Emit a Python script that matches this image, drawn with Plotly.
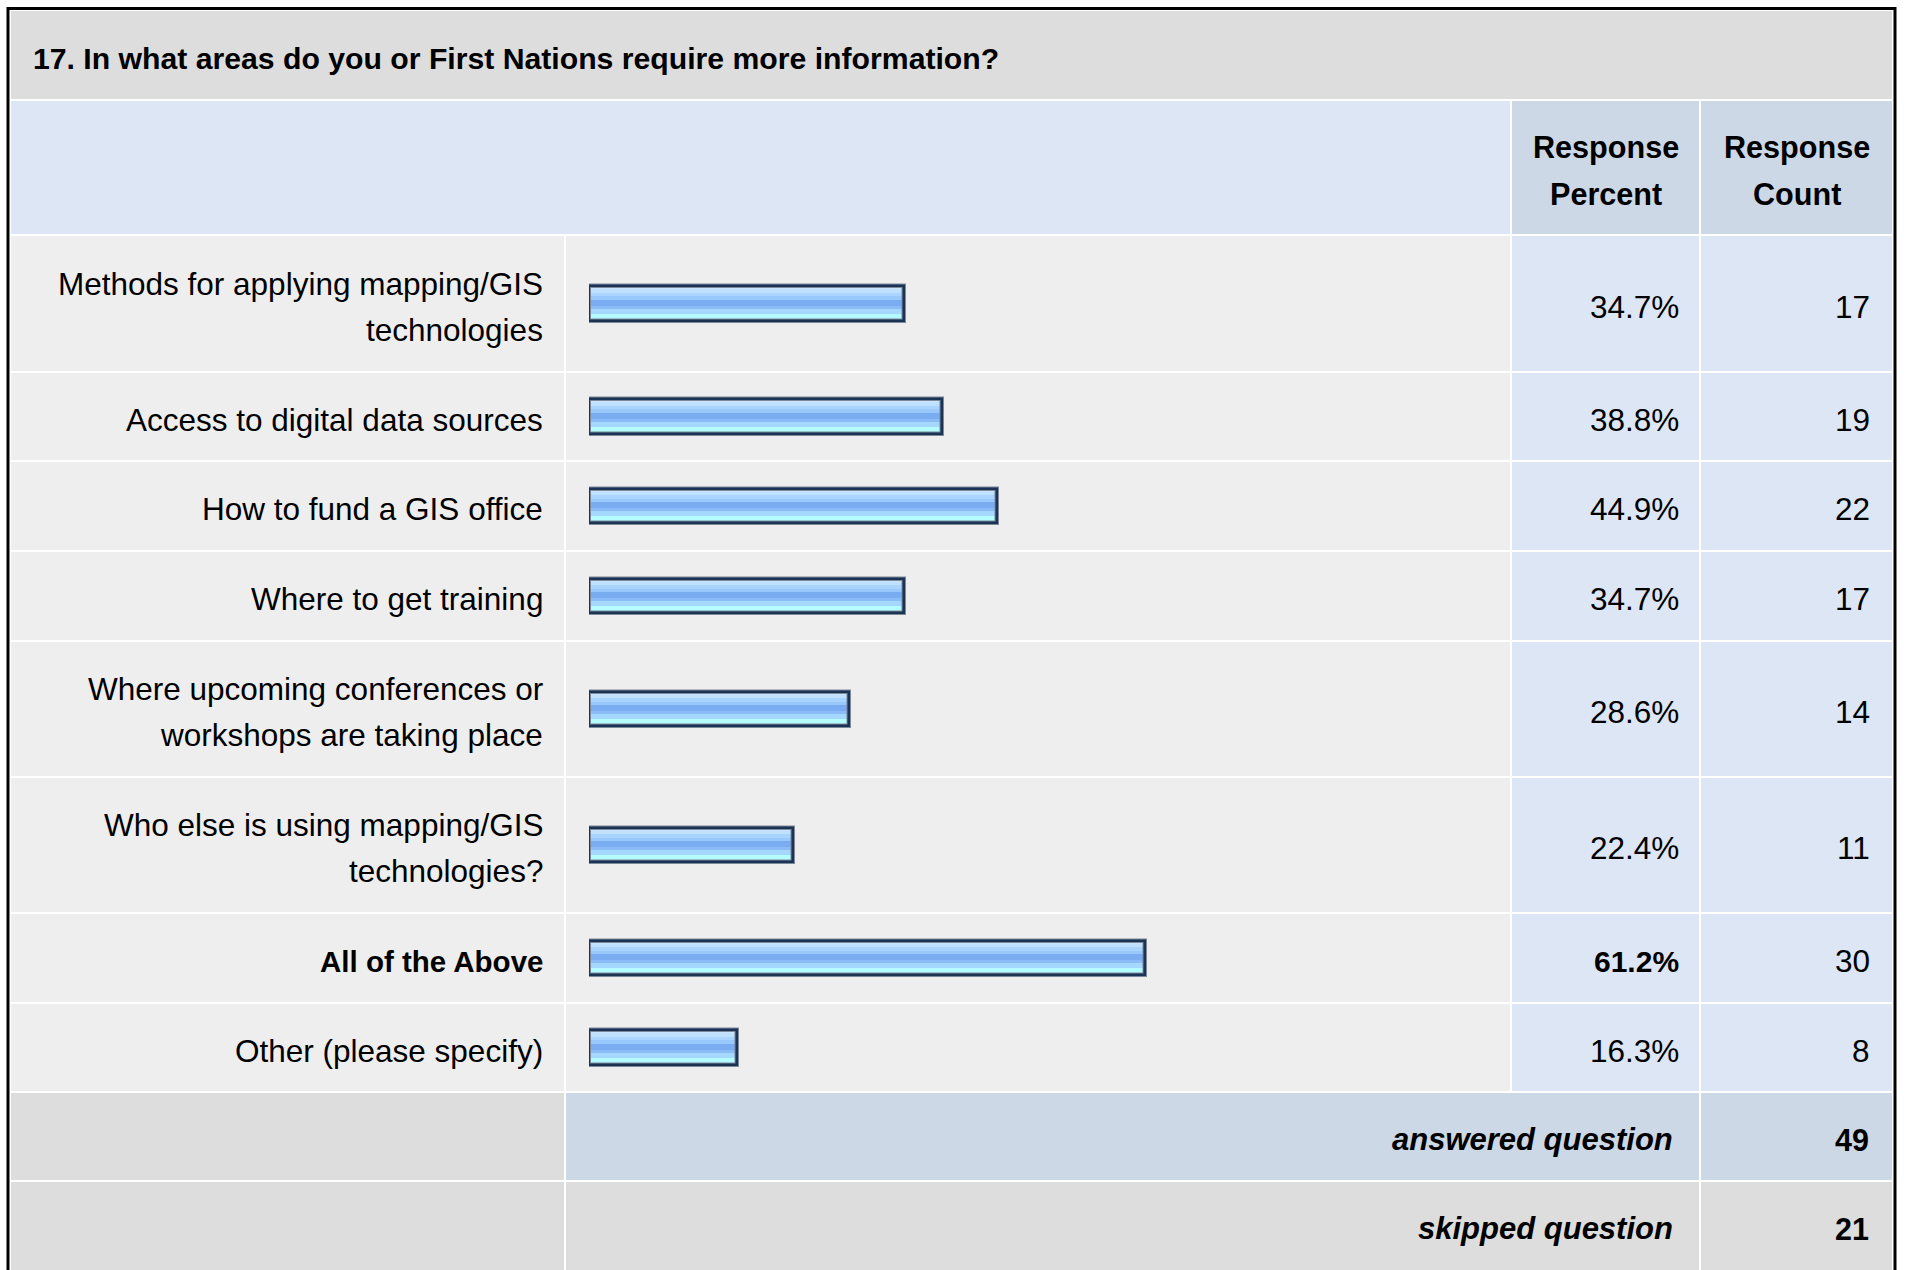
import plotly.graph_objects as go

# ---- survey data ----
question = "17. In what areas do you or First Nations require more information?"
categories = [
    "Methods for applying mapping/GIS\ntechnologies",
    "Access to digital data sources",
    "How to fund a GIS office",
    "Where to get training",
    "Where upcoming conferences or\nworkshops are taking place",
    "Who else is using mapping/GIS\ntechnologies?",
    "All of the Above",
    "Other (please specify)",
]
response_percent = [34.7, 38.8, 44.9, 34.7, 28.6, 22.4, 61.2, 16.3]
response_count = [17, 19, 22, 17, 14, 11, 30, 8]
answered_question = 49
skipped_question = 21
column_headers = ["Response\nPercent", "Response\nCount"]

# ---- layout constants (pixels) ----
W, H = 1907, 1270
FONT = "Liberation Sans, Arial, Helvetica, sans-serif"
COL_X = [10, 565, 1511, 1700, 1893]          # cell column edges
ROW_Y = [10, 100, 235, 372, 461, 551, 641, 777, 913, 1003, 1092, 1181, 1275]
BAR_ZERO, BAR_FULL = 589, 1497.5              # pixel positions of 0% and 100%
LINE_GAP = 46                                 # line spacing for wrapped text

C_TITLE = "#dddddd"
C_HEAD = "#dce6f4"
C_HEAD_DARK = "#ccd8e6"
C_ROW = "#eeeeee"
C_FOOT = "#dddddd"

shapes = []


def cell(x0, x1, y0, y1, color):
    shapes.append(dict(type="rect", xref="x", yref="y", x0=x0 + 1, x1=x1 - 1,
                       y0=y0 + 1, y1=y1 - 1, fillcolor=color,
                       line=dict(width=0), layer="below"))


annotations = []


def text(x, y, s, anchor="right", size=31.5, weight="normal", style="normal"):
    lines = s.split("\n")
    n = len(lines)
    for i, ln in enumerate(lines):
        yy = y + (i - (n - 1) / 2) * LINE_GAP
        annotations.append(dict(
            x=x, y=yy, xref="x", yref="y", text=ln, showarrow=False,
            xanchor=anchor, yanchor="middle",
            font=dict(family=FONT, size=size, color="#000000",
                      weight=weight, style=style)))


# title row
cell(COL_X[0], COL_X[4], ROW_Y[0], ROW_Y[1], C_TITLE)
text(31, (ROW_Y[0] + ROW_Y[1]) / 2 + 3, question, anchor="left", size=30.2, weight="bold")

# header row
cell(COL_X[0], COL_X[2], ROW_Y[1], ROW_Y[2], C_HEAD)
cell(COL_X[2], COL_X[3], ROW_Y[1], ROW_Y[2], C_HEAD_DARK)
cell(COL_X[3], COL_X[4], ROW_Y[1], ROW_Y[2], C_HEAD_DARK)
hy = (ROW_Y[1] + ROW_Y[2]) / 2 + 3
text((COL_X[2] + COL_X[3]) / 2, hy, column_headers[0], anchor="center", size=30.6, weight="bold")
text((COL_X[3] + COL_X[4]) / 2, hy, column_headers[1], anchor="center", size=30.6, weight="bold")

# answer rows
top_pct = max(response_percent)
row_centers = []
for i, (lab, pct, cnt) in enumerate(zip(categories, response_percent, response_count)):
    y0, y1 = ROW_Y[2 + i], ROW_Y[3 + i]
    yc = (y0 + y1) / 2
    row_centers.append(yc)
    cell(COL_X[0], COL_X[1], y0, y1, C_ROW)
    cell(COL_X[1], COL_X[2], y0, y1, C_ROW)
    cell(COL_X[2], COL_X[3], y0, y1, C_HEAD)
    cell(COL_X[3], COL_X[4], y0, y1, C_HEAD)
    bold = pct == top_pct
    w = "bold" if bold else "normal"
    text(COL_X[1] - 20, yc + 3, lab, weight=w, size=29.5 if bold else 31.5)
    text(COL_X[3] - 19, yc + 3, f"{pct:.1f}%", weight=w, size=30 if bold else 31.5)
    text(COL_X[4] - 21, yc + 3, str(cnt))

# summary rows
ya0, ya1, ys1 = ROW_Y[10], ROW_Y[11], ROW_Y[12]
cell(COL_X[0], COL_X[1], ya0, ya1, C_FOOT)
cell(COL_X[1], COL_X[3], ya0, ya1, C_HEAD_DARK)
cell(COL_X[3], COL_X[4], ya0, ya1, C_HEAD_DARK)
cell(COL_X[0], COL_X[1], ya1, ys1, C_FOOT)
cell(COL_X[1], COL_X[3], ya1, ys1, C_FOOT)
cell(COL_X[3], COL_X[4], ya1, ys1, C_FOOT)
text(COL_X[3] - 25, (ya0 + ya1) / 2 + 3, "answered question", size=31, weight="bold", style="italic")
text(COL_X[4] - 22, (ya0 + ya1) / 2 + 3, str(answered_question), size=30.5, weight="bold")
text(COL_X[3] - 25, (ya1 + 1270) / 2 + 3, "skipped question", size=31, weight="bold", style="italic")
text(COL_X[4] - 22, (ya1 + 1270) / 2 + 3, str(skipped_question), size=30.5, weight="bold")

# outer frame
shapes.append(dict(type="path", xref="x", yref="y",
                   path="M 8 1290 L 8 8.5 L 1895 8.5 L 1895 1290",
                   line=dict(color="#000000", width=3), layer="above"))

# ---- glossy bars: horizontal gradient stripes, then outline ----
BAR_H = 36
stripes = [
    (0.00, 0.10, "#c8e4ff"),
    (0.10, 0.20, "#c0e0ff"),
    (0.20, 0.30, "#a8d4ff"),
    (0.30, 0.40, "#98c8fc"),
    (0.40, 0.56, "#7aacf2"),
    (0.56, 0.65, "#8cbcf8"),
    (0.65, 0.78, "#a4d8ff"),
    (0.78, 1.00, "#b4fcff"),
]

fig = go.Figure()
for f0, f1, col in stripes:
    fig.add_trace(go.Bar(
        x=response_percent, y=row_centers, orientation="h",
        width=BAR_H * (f1 - f0), offset=-BAR_H / 2 + BAR_H * f0,
        marker=dict(color=col, line=dict(width=0)),
        xaxis="x2", yaxis="y", hoverinfo="skip", showlegend=False))

for lw, lc in [(4.5, "#7d8898"), (2.5, "#1b3354")]:
    fig.add_trace(go.Bar(
        x=response_percent, y=row_centers, orientation="h",
        width=BAR_H - 1.5, offset=-(BAR_H - 1.5) / 2,
        marker=dict(color="rgba(0,0,0,0)", line=dict(width=lw, color=lc)),
        xaxis="x2", yaxis="y", hoverinfo="skip", showlegend=False))

fig.update_layout(
    width=W, height=H, autosize=False,
    margin=dict(l=0, r=0, t=0, b=0, pad=0),
    paper_bgcolor="#ffffff", plot_bgcolor="rgba(0,0,0,0)",
    barmode="overlay", bargap=0,
    xaxis=dict(range=[0, W], domain=[0, 1], visible=False, fixedrange=True),
    xaxis2=dict(range=[0, 100], domain=[BAR_ZERO / W, BAR_FULL / W],
                anchor="y", visible=False, fixedrange=True),
    yaxis=dict(range=[H, 0], domain=[0, 1], visible=False, fixedrange=True),
    shapes=shapes, annotations=annotations,
)

fig.write_html("out.html", config={"displayModeBar": False})
